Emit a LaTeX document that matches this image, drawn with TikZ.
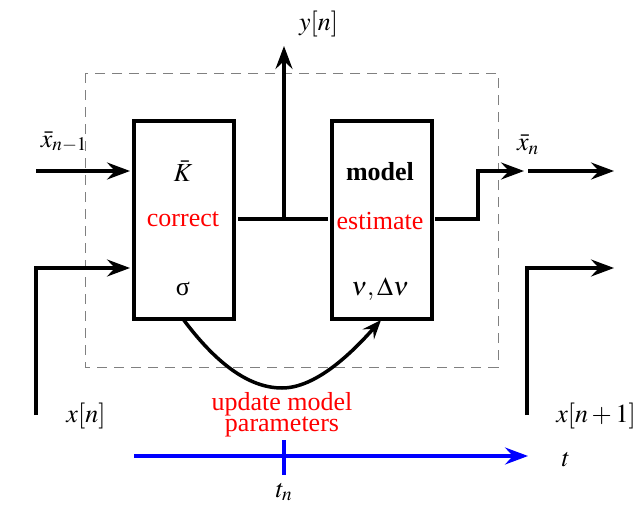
\documentclass[tikz,border=0pt]{standalone}
\usepackage{mathptmx}
\usepackage{fontspec}
\setmainfont{Liberation Serif}
\usetikzlibrary{arrows.meta}
\begin{document}
\begin{tikzpicture}[x=1pt,y=-1pt,
  every node/.style={font=\fontsize{26}{28}\selectfont},
  box/.style={draw,line width=3.5pt,minimum width=100pt,minimum height=198pt,inner sep=0pt},
  wire/.style={line width=3.5pt},
  tip/.style={-{Stealth[length=23pt,width=17pt,inset=8pt]}},
  arr/.style={line width=3.5pt,tip},
  lab/.style={inner sep=0pt},
  redt/.style={text=red,inner sep=0pt}]
\useasboundingbox (0,0) rectangle (640,506);
\draw[gray,dash pattern=on 10pt off 7pt,line width=1pt] (85,73) rectangle (498,367);
\node[box] (L) at (184,220) {};
\node[box] (R) at (382,220) {};
% texts in boxes
\node[lab] (K) at (183,171) {$\bar K$};
\node[redt] (corr) at (183,219) {correct};
\node[lab] (sig) at (183,289) {σ};
\node[lab] (mod) at (380,172) {\textbf{model}};
\node[redt] (est) at (380,221) {estimate};
\node[lab] (nu) at (380,289) {$\nu,\Delta\nu$};
% middle connection
\coordinate (la) at (238,219);
\coordinate (ra) at (328,219);
\coordinate (j) at (284,219);
\coordinate (ytop) at (284,46);
\draw[wire] (la) -- (ra);
\draw[arr] (j) -- (ytop);
\node[lab,anchor=west] (y) at (299,24) {$y[n]$};
% left inputs
\coordinate (a1s) at (36,171);
\coordinate (a1e) at (130,171);
\draw[arr] (a1s) -- (a1e);
\node[lab] (xb1) at (64,142) {$\bar x_{n-1}$};
\coordinate (a2s) at (36,415);
\coordinate (a2c) at (36,268);
\coordinate (a2e) at (130,268);
\draw[arr] (a2s) -- (a2c) -- (a2e);
\node[lab] (xn) at (86,416) {$x[n]$};
% right outputs
\coordinate (o1s) at (435,219);
\coordinate (o1a) at (478,219);
\coordinate (o1b) at (478,171);
\coordinate (o1e) at (524,171);
\draw[arr] (o1s) -- (o1a) -- (o1b) -- (o1e);
\node[lab] (xbn) at (528,145) {$\bar x_n$};
\coordinate (o2s) at (528,171);
\coordinate (o2e) at (614,171);
\draw[arr] (o2s) -- (o2e);
\coordinate (o3s) at (527,415);
\coordinate (o3c) at (527,268);
\coordinate (o3e) at (614,268);
\draw[arr] (o3s) -- (o3c) -- (o3e);
\node[lab] (xn1) at (596,416) {$x[n+1]$};
% update curve
\coordinate (cs) at (183,319);
\coordinate (cb) at (282,388);
\coordinate (ce) at (381,320);
\draw[line width=3.5pt,-{Stealth[length=19pt,width=15pt,inset=7pt]}] (cs) .. controls (215,362) and (248,388) .. (cb) .. controls (315,388) and (350,355) .. (ce);
\node[redt,align=center,font=\fontsize{26}{19}\selectfont] (upd) at (282,415) {update model\\parameters};
% time axis
\coordinate (ts) at (134,456);
\coordinate (te) at (528,456);
\draw[blue,line width=3.5pt,tip] (ts) -- (te);
\coordinate (tk1) at (284,440);
\coordinate (tk2) at (284,475);
\draw[blue,line width=3.5pt] (tk1) -- (tk2);
\node[lab] (tn) at (284,492) {$t_n$};
\node[lab] (t) at (566,460) {$t$};
\end{tikzpicture}
\end{document}
